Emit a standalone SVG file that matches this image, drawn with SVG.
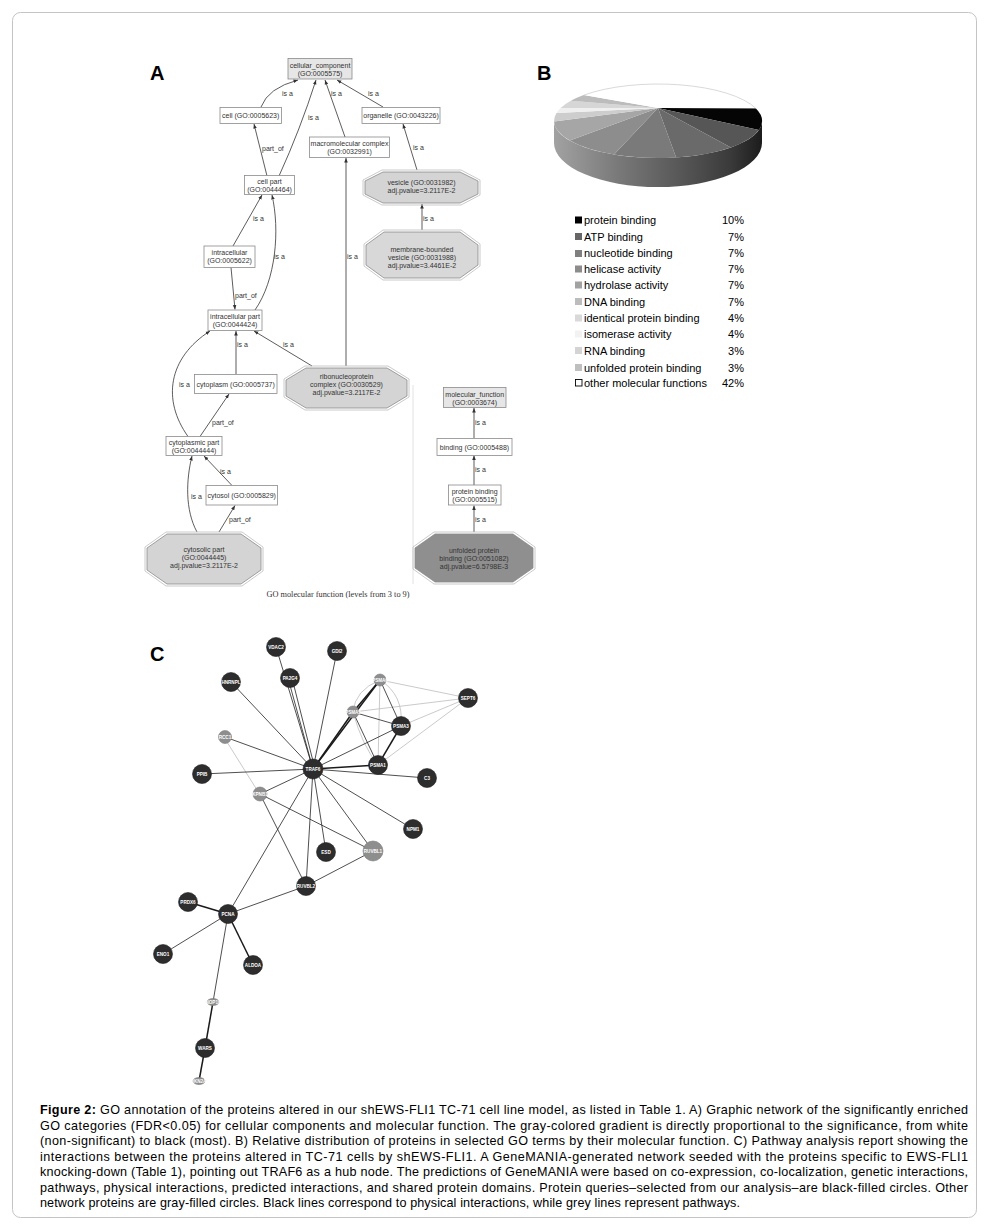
<svg xmlns="http://www.w3.org/2000/svg" width="988" height="1231" viewBox="0 0 988 1231">
<defs>
<style>
.t{font-family:"Liberation Sans",Arial,sans-serif;font-size:7px;fill:#333;text-anchor:middle}
.lb{font-family:"Liberation Sans",Arial,sans-serif;font-size:7px;fill:#333}
.box{fill:#fff;stroke:#8a8a8a;stroke-width:0.8}
.gbox{fill:#e6e6e6;stroke:#8a8a8a;stroke-width:0.8}
.oct{stroke:#8a8a8a;stroke-width:0.8}
.octo{fill:none;stroke:#bdbdbd;stroke-width:0.8}
.e{fill:none;stroke:#333;stroke-width:0.8;marker-end:url(#ah)}
.panel{font-family:"Liberation Sans",Arial,sans-serif;font-size:20px;font-weight:bold;fill:#000}
.leg{font-family:"Liberation Sans",Arial,sans-serif;font-size:11px;fill:#000}
.pct{font-family:"Liberation Sans",Arial,sans-serif;font-size:11px;fill:#000;text-anchor:end}
.cap{font-family:"Liberation Sans",Arial,sans-serif;font-size:12.6px;fill:#000}
.nb{fill:#2d2d2d;stroke:#1e1e1e;stroke-width:0.6}
.ng{fill:#8e8e8e;stroke:#7a7a7a;stroke-width:0.6}
.nt{font-family:"Liberation Sans",Arial,sans-serif;font-size:4.6px;font-weight:bold;fill:#fff;text-anchor:middle}
.k{stroke:#222;stroke-width:0.8;fill:none}
.kk{stroke:#1a1a1a;stroke-width:1.5;fill:none}
.g{stroke:#bdbdbd;stroke-width:0.8;fill:none}
</style>
<marker id="ah" viewBox="0 0 10 10" refX="10" refY="5" markerWidth="4.5" markerHeight="4.5" markerUnits="userSpaceOnUse" orient="auto"><path d="M0,1 L10,5 L0,9 z" fill="#333"/></marker>
<linearGradient id="side" x1="554" y1="0" x2="762" y2="0" gradientUnits="userSpaceOnUse">
<stop offset="0" stop-color="#a2a2a2"/><stop offset="0.3" stop-color="#7a7a7a"/><stop offset="0.6" stop-color="#585858"/><stop offset="0.85" stop-color="#3a3a3a"/><stop offset="1" stop-color="#1c1c1c"/>
</linearGradient>
</defs>
<rect x="0" y="0" width="988" height="1231" fill="#fff"/>
<rect x="12.5" y="12.5" width="964" height="1205" rx="8" fill="#fff" stroke="#c4c4c4" stroke-width="1"/>

<text class="panel" x="150" y="80">A</text>
<text class="panel" x="537" y="80">B</text>
<text class="panel" x="150" y="661">C</text>

<!-- Panel A connectors -->
<g id="connectors-A">
<path class="e" d="M261,107 Q268,88 298,80"/>
<path class="e" d="M267,176 L254,124"/>
<path class="e" d="M279,176 Q300,130 316,80"/>
<path class="e" d="M345,137 L325,80"/>
<path class="e" d="M383,107 L337,80"/>
<path class="e" d="M417,170 L403,124"/>
<path class="e" d="M422,230 L422,204"/>
<path class="e" d="M233,246 L262,195"/>
<path class="e" d="M255,310 C276,280 280,230 272,195"/>
<path class="e" d="M231,267.5 L235,309.5"/>
<path class="e" d="M346,366 L346,158"/>
<path class="e" d="M236,374 L236,331"/>
<path class="e" d="M312,366 L254,331"/>
<path class="e" d="M188,436.5 C162,400 168,358 210,331"/>
<path class="e" d="M200,436.5 L229,394"/>
<path class="e" d="M232,485.5 L204,456"/>
<path class="e" d="M197,532 C185,510 186,480 192,456"/>
<path class="e" d="M219,532 L235,505.5"/>
<path class="e" d="M474,438 L474,408"/>
<path class="e" d="M474,485 L474,455.5"/>
<path class="e" d="M474,532 L474,505.5"/>
<text class="lb" x="282" y="96">is a</text>
<text class="lb" x="262" y="151">part_of</text>
<text class="lb" x="308" y="120">is a</text>
<text class="lb" x="331" y="96">is a</text>
<text class="lb" x="368" y="96">is a</text>
<text class="lb" x="413" y="150">is a</text>
<text class="lb" x="423" y="221">is a</text>
<text class="lb" x="253" y="221">is a</text>
<text class="lb" x="274" y="259">is a</text>
<text class="lb" x="235" y="298">part_of</text>
<text class="lb" x="347" y="259">is a</text>
<text class="lb" x="237" y="347">is a</text>
<text class="lb" x="283" y="347">is a</text>
<text class="lb" x="179" y="387">is a</text>
<text class="lb" x="212" y="425">part_of</text>
<text class="lb" x="220" y="474">is a</text>
<text class="lb" x="191" y="499">is a</text>
<text class="lb" x="229" y="522">part_of</text>
<text class="lb" x="475" y="425">is a</text>
<text class="lb" x="475" y="472">is a</text>
<text class="lb" x="475" y="522">is a</text>
</g>

<!-- Panel A nodes -->
<g id="n-cellular_component"><rect class="gbox" x="288" y="58.5" width="64" height="20.5"/><text class="t" x="320" y="67.5">cellular_component</text><text class="t" x="320" y="75.5">(GO:0005575)</text></g>
<g id="n-cell"><rect class="box" x="220" y="107.5" width="61.5" height="16"/><text class="t" x="250.7" y="118">cell (GO:0005623)</text></g>
<g id="n-organelle"><rect class="box" x="362" y="107.5" width="78" height="16"/><text class="t" x="401" y="118">organelle (GO:0043226)</text></g>
<g id="n-macromolecular"><rect class="box" x="309.5" y="137" width="80" height="20.5"/><text class="t" x="349.5" y="146">macromolecular complex</text><text class="t" x="349.5" y="154">(GO:0032991)</text></g>
<g id="n-cellpart"><rect class="box" x="244.5" y="175.5" width="50" height="19"/><text class="t" x="269.5" y="184">cell part</text><text class="t" x="269.5" y="192">(GO:0044464)</text></g>
<g id="n-vesicle"><polygon class="octo" points="382,170 461,170 480,180 480,195 461,205 382,205 363,195 363,180"/><polygon class="oct" fill="#d4d4d4" points="383,172 460,172 478,181 478,194 460,203 383,203 365,194 365,181"/><text class="t" x="421.5" y="184.5">vesicle (GO:0031982)</text><text class="t" x="421.5" y="192.5">adj.pvalue=3.2117E-2</text></g>
<g id="n-membrane"><polygon class="octo" points="383,230 461,230 480,244 480,266 461,280 383,280 364,266 364,244"/><polygon class="oct" fill="#d8d8d8" points="384,232 460,232 478,245 478,265 460,278 384,278 366,265 366,245"/><text class="t" x="422" y="251.5">membrane-bounded</text><text class="t" x="422" y="259.5">vesicle (GO:0031988)</text><text class="t" x="422" y="267.5">adj.pvalue=3.4461E-2</text></g>
<g id="n-intracellular"><rect class="box" x="204" y="246" width="51" height="21.5"/><text class="t" x="229.5" y="255">intracellular</text><text class="t" x="229.5" y="263">(GO:0005622)</text></g>
<g id="n-intracellularpart"><rect class="box" x="208" y="310" width="54" height="20.5"/><text class="t" x="235" y="318.5">intracellular part</text><text class="t" x="235" y="326.5">(GO:0044424)</text></g>
<g id="n-cytoplasm"><rect class="box" x="194.5" y="374.5" width="82.5" height="19"/><text class="t" x="235.7" y="386.5">cytoplasm (GO:0005737)</text></g>
<g id="n-ribonucleoprotein"><polygon class="octo" points="305,366 388,366 409,379 409,397 388,410 305,410 284,397 284,379"/><polygon class="oct" fill="#d4d4d4" points="306,368 387,368 407,380 407,396 387,408 306,408 286,396 286,380"/><text class="t" x="346.5" y="378.5">ribonucleoprotein</text><text class="t" x="346.5" y="386.5">complex (GO:0030529)</text><text class="t" x="346.5" y="394.5">adj.pvalue=3.2117E-2</text></g>
<g id="n-cytoplasmicpart"><rect class="box" x="166" y="436.5" width="56" height="19"/><text class="t" x="194" y="445">cytoplasmic part</text><text class="t" x="194" y="453">(GO:0044444)</text></g>
<g id="n-cytosol"><rect class="box" x="206" y="485.5" width="71.5" height="19.5"/><text class="t" x="241.7" y="497.5">cytosol (GO:0005829)</text></g>
<g id="n-cytosolicpart"><polygon class="octo" points="166,532 242,532 263,547 263,571 242,586 166,586 145,571 145,547"/><polygon class="oct" fill="#d4d4d4" points="167,534 241,534 261,548 261,570 241,584 167,584 147,570 147,548"/><text class="t" x="204" y="551.5">cytosolic part</text><text class="t" x="204" y="559.7">(GO:0044445)</text><text class="t" x="204" y="568">adj.pvalue=3.2117E-2</text></g>
<line x1="413" y1="385" x2="413" y2="584" stroke="#e2e2e2" stroke-width="1"/>
<g id="n-molecular_function"><rect class="gbox" x="443.5" y="387.5" width="62.5" height="20"/><text class="t" x="474.7" y="396.5">molecular_function</text><text class="t" x="474.7" y="404.5">(GO:0003674)</text></g>
<g id="n-binding"><rect class="box" x="437" y="438.5" width="75" height="17"/><text class="t" x="474.5" y="449.5">binding (GO:0005488)</text></g>
<g id="n-proteinbinding"><rect class="box" x="448.5" y="485" width="52.5" height="20"/><text class="t" x="474.7" y="493.5">protein binding</text><text class="t" x="474.7" y="501.5">(GO:0005515)</text></g>
<g id="n-unfolded"><polygon class="octo" points="434,532 514,532 535,547 535,569 514,584 434,584 413,569 413,547"/><polygon class="oct" fill="#8f8f8f" points="435,534 513,534 533,548 533,568 513,582 435,582 415,568 415,548"/><text class="t" x="474" y="552.5">unfolded protein</text><text class="t" x="474" y="560.5">binding (GO:0051082)</text><text class="t" x="474" y="568.5">adj.pvalue=6.5798E-3</text></g>
<text x="338" y="597" font-family="'Liberation Serif','Times New Roman',serif" font-size="8.3" fill="#333" text-anchor="middle">GO molecular function (levels from 3 to 9)</text>

<!-- Panel B pie -->
<g id="pie">
<path d="M554,121 A104,37 0 0 0 762,121 L762,143 A104,44 0 0 1 554,143 Z" fill="url(#side)"/>
<path d="M658,108 L755.7,108.3 A104,37 0 0 1 758.9,130 Z" fill="#050505"/>
<path d="M658,108 L758.9,130 A104,37 0 0 1 730.9,147.4 Z" fill="#565656"/>
<path d="M658,108 L730.9,147.4 A104,37 0 0 1 676.1,157.4 Z" fill="#6a6a6a"/>
<path d="M658,108 L676.1,157.4 A104,37 0 0 1 614,154.5 Z" fill="#7a7a7a"/>
<path d="M658,108 L614,154.5 A104,37 0 0 1 569.8,140.6 Z" fill="#8d8d8d"/>
<path d="M658,108 L569.8,140.6 A104,37 0 0 1 554,121.6 Z" fill="#a6a6a6"/>
<path d="M658,108 L554,121.6 A104,37 0 0 1 556.5,113 Z" fill="#cdcdcd"/>
<path d="M658,108 L556.5,113 A104,37 0 0 1 560.6,108 Z" fill="#efefef"/>
<path d="M658,108 L560.6,108 A104,37 0 0 1 570.8,100.8 Z" fill="#d6d6d6"/>
<path d="M658,108 L570.8,100.8 A104,37 0 0 1 583.8,95.1 Z" fill="#bcbcbc"/>
<path d="M658,108 L583.8,95.1 A104,37 0 0 1 755.7,108.3 Z" fill="#ffffff"/>
<path d="M583.8,95.1 A104,37 0 0 1 755.7,108.3" fill="none" stroke="#c8c8c8" stroke-width="0.7"/>
</g>
<g id="legend">
<rect x="575" y="216.5" width="7" height="7" fill="#000"/><text class="leg" x="584" y="224">protein binding</text><text class="pct" x="744" y="224">10%</text>
<rect x="575" y="233" width="7" height="7" fill="#666"/><text class="leg" x="584" y="240.5">ATP binding</text><text class="pct" x="744" y="240.5">7%</text>
<rect x="575" y="250" width="7" height="7" fill="#7f7f7f"/><text class="leg" x="584" y="257.3">nucleotide binding</text><text class="pct" x="744" y="257.3">7%</text>
<rect x="575" y="265.5" width="7" height="7" fill="#8c8c8c"/><text class="leg" x="584" y="272.5">helicase activity</text><text class="pct" x="744" y="272.5">7%</text>
<rect x="575" y="281.5" width="7" height="7" fill="#a2a2a2"/><text class="leg" x="584" y="289">hydrolase activity</text><text class="pct" x="744" y="289">7%</text>
<rect x="575" y="298" width="7" height="7" fill="#bcbcbc"/><text class="leg" x="584" y="305.5">DNA binding</text><text class="pct" x="744" y="305.5">7%</text>
<rect x="575" y="314.5" width="7" height="7" fill="#d9d9d9"/><text class="leg" x="584" y="322">identical protein binding</text><text class="pct" x="744" y="322">4%</text>
<rect x="575" y="330.5" width="7" height="7" fill="#f2f2f2"/><text class="leg" x="584" y="338">isomerase activity</text><text class="pct" x="744" y="338">4%</text>
<rect x="575" y="347" width="7" height="7" fill="#d4d4d4"/><text class="leg" x="584" y="354.5">RNA binding</text><text class="pct" x="744" y="354.5">3%</text>
<rect x="575" y="364" width="7" height="7" fill="#bfbfbf"/><text class="leg" x="584" y="371.5">unfolded protein binding</text><text class="pct" x="744" y="371.5">3%</text>
<rect x="575.5" y="379.5" width="6.5" height="6.5" fill="#fff" stroke="#000" stroke-width="0.9"/><text class="leg" x="584" y="386.5">other molecular functions</text><text class="pct" x="744" y="386.5">42%</text>
</g>

<!-- Panel C connectors -->
<g id="connectors-C">
<line class="g" x1="227" y1="742" x2="257" y2="790"/>
<line class="g" x1="380" y1="680" x2="378" y2="765"/>
<line class="g" x1="380" y1="680" x2="468" y2="698"/>
<line class="g" x1="353" y1="712" x2="468" y2="698"/>
<line class="g" x1="401" y1="726" x2="468" y2="698"/>
<line class="g" x1="378" y1="765" x2="468" y2="698"/>
<path class="g" d="M380,680 Q404,695 401,726"/>
<path class="g" d="M353,712 Q362,745 378,765"/>
<path class="g" d="M380,680 Q355,690 353,712"/>
<path class="g" d="M313,769 Q350,715 380,680"/>
<line class="k" x1="313" y1="769" x2="276" y2="647"/>
<line class="k" x1="313" y1="769" x2="288" y2="678"/>
<line class="k" x1="315" y1="769" x2="292" y2="678"/>
<line class="k" x1="313" y1="769" x2="231" y2="682"/>
<line class="k" x1="313" y1="769" x2="337" y2="651"/>
<line class="k" x1="313" y1="769" x2="225" y2="737"/>
<line class="k" x1="313" y1="769" x2="202" y2="774"/>
<line class="k" x1="313" y1="769" x2="260" y2="794"/>
<line class="kk" x1="313" y1="769" x2="353" y2="712"/>
<line class="kk" x1="313" y1="769" x2="380" y2="680"/>
<line class="k" x1="313" y1="769" x2="401" y2="726"/>
<line class="kk" x1="313" y1="769" x2="378" y2="765"/>
<line class="k" x1="313" y1="769" x2="427" y2="778"/>
<line class="k" x1="313" y1="769" x2="413" y2="829"/>
<line class="k" x1="313" y1="769" x2="326" y2="852"/>
<line class="k" x1="313" y1="769" x2="373" y2="851"/>
<line class="k" x1="313" y1="769" x2="306" y2="886"/>
<line class="k" x1="313" y1="769" x2="228" y2="914"/>
<line class="k" x1="260" y1="794" x2="306" y2="886"/>
<line class="k" x1="260" y1="794" x2="373" y2="851"/>
<line class="k" x1="306" y1="886" x2="373" y2="851"/>
<line class="k" x1="306" y1="886" x2="228" y2="914"/>
<line class="kk" x1="228" y1="914" x2="188" y2="902"/>
<line class="k" x1="228" y1="914" x2="163" y2="954"/>
<line class="kk" x1="228" y1="914" x2="253" y2="965"/>
<line class="k" x1="228" y1="914" x2="213" y2="1002"/>
<line class="kk" x1="213" y1="1002" x2="205" y2="1048"/>
<line class="kk" x1="205" y1="1048" x2="199" y2="1081"/>
<line class="kk" x1="380" y1="680" x2="353" y2="712"/>
<line class="k" x1="380" y1="680" x2="401" y2="726"/>
<line class="k" x1="353" y1="712" x2="401" y2="726"/>
<line class="k" x1="353" y1="712" x2="378" y2="765"/>
<line class="kk" x1="401" y1="726" x2="378" y2="765"/>
</g>

<!-- Panel C nodes -->
<g id="c-VDAC2"><circle class="nb" cx="276" cy="647" r="9.5"/><text class="nt" x="276" y="648.6">VDAC2</text></g>
<g id="c-GDI2"><circle class="nb" cx="337" cy="651" r="9.5"/><text class="nt" x="337" y="652.6">GDI2</text></g>
<g id="c-PA2G4"><circle class="nb" cx="290" cy="678" r="9.5"/><text class="nt" x="290" y="679.6">PA2G4</text></g>
<g id="c-HNRNPL"><circle class="nb" cx="231" cy="682" r="9.5"/><text class="nt" x="231" y="683.6">HNRNPL</text></g>
<g id="c-PSMA6"><circle class="ng" cx="380" cy="680" r="6"/><text class="nt" x="380" y="681.6">PSMA6</text></g>
<g id="c-SEPT6"><circle class="nb" cx="468" cy="698" r="9.5"/><text class="nt" x="468" y="699.6">SEPT6</text></g>
<g id="c-PSMA5"><circle class="ng" cx="353" cy="712" r="6"/><text class="nt" x="353" y="713.6">PSMA5</text></g>
<g id="c-PSMA3"><circle class="nb" cx="401" cy="726" r="9.5"/><text class="nt" x="401" y="727.6">PSMA3</text></g>
<g id="c-RCC1"><circle class="ng" cx="225" cy="737" r="6.5"/><text class="nt" x="225" y="738.6">RCC1</text></g>
<g id="c-PSMA1"><circle class="nb" cx="378" cy="765" r="9.5"/><text class="nt" x="378" y="766.6">PSMA1</text></g>
<g id="c-TRAF6"><circle class="nb" cx="313" cy="769" r="10"/><text class="nt" x="313" y="770.6">TRAF6</text></g>
<g id="c-PPIB"><circle class="nb" cx="202" cy="774" r="9.5"/><text class="nt" x="202" y="775.6">PPIB</text></g>
<g id="c-C3"><circle class="nb" cx="427" cy="778" r="9.5"/><text class="nt" x="427" y="779.6">C3</text></g>
<g id="c-KPNB1"><circle class="ng" cx="260" cy="794" r="7"/><text class="nt" x="260" y="795.6">KPNB1</text></g>
<g id="c-NPM1"><circle class="nb" cx="413" cy="829" r="9.5"/><text class="nt" x="413" y="830.6">NPM1</text></g>
<g id="c-ESD"><circle class="nb" cx="326" cy="852" r="9.5"/><text class="nt" x="326" y="853.6">ESD</text></g>
<g id="c-RUVBL1"><circle class="ng" cx="373" cy="851" r="10"/><text class="nt" x="373" y="852.6">RUVBL1</text></g>
<g id="c-RUVBL2"><circle class="nb" cx="306" cy="886" r="9.5"/><text class="nt" x="306" y="887.6">RUVBL2</text></g>
<g id="c-PRDX6"><circle class="nb" cx="188" cy="902" r="9.5"/><text class="nt" x="188" y="903.6">PRDX6</text></g>
<g id="c-PCNA"><circle class="nb" cx="228" cy="914" r="9.5"/><text class="nt" x="228" y="915.6">PCNA</text></g>
<g id="c-ENO1"><circle class="nb" cx="163" cy="954" r="9.5"/><text class="nt" x="163" y="955.6">ENO1</text></g>
<g id="c-ALDOA"><circle class="nb" cx="253" cy="965" r="9.5"/><text class="nt" x="253" y="966.6">ALDOA</text></g>
<g id="c-NOP16"><ellipse class="ng" cx="213" cy="1002" rx="6" ry="3.5"/><text class="nt" x="213" y="1003.6">NOP16</text></g>
<g id="c-WARS"><circle class="nb" cx="205" cy="1048" r="9.5"/><text class="nt" x="205" y="1049.6">WARS</text></g>
<g id="c-CDKN2AIP"><ellipse class="ng" cx="199" cy="1081" rx="6" ry="3.5"/><text class="nt" x="199" y="1082.6">CDKN2AIP</text></g>

<!-- Caption -->
<g id="caption">
<text class="cap" x="40" y="1114" textLength="928" lengthAdjust="spacing"><tspan font-weight="bold">Figure 2:</tspan> GO annotation of the proteins altered in our shEWS-FLI1 TC-71 cell line model, as listed in Table 1. A) Graphic network of the significantly enriched</text>
<text class="cap" x="40" y="1129.5" textLength="928" lengthAdjust="spacing">GO categories (FDR&lt;0.05) for cellular components and molecular function. The gray-colored gradient is directly proportional to the significance, from white</text>
<text class="cap" x="40" y="1145" textLength="928" lengthAdjust="spacing">(non-significant) to black (most). B) Relative distribution of proteins in selected GO terms by their molecular function. C) Pathway analysis report showing the</text>
<text class="cap" x="40" y="1160.5" textLength="928" lengthAdjust="spacing">interactions between the proteins altered in TC-71 cells by shEWS-FLI1. A GeneMANIA-generated network seeded with the proteins specific to EWS-FLI1</text>
<text class="cap" x="40" y="1176" textLength="928" lengthAdjust="spacing">knocking-down (Table 1), pointing out TRAF6 as a hub node. The predictions of GeneMANIA were based on co-expression, co-localization, genetic interactions,</text>
<text class="cap" x="40" y="1191.5" textLength="928" lengthAdjust="spacing">pathways, physical interactions, predicted interactions, and shared protein domains. Protein queries–selected from our analysis–are black-filled circles. Other</text>
<text class="cap" x="40" y="1207" textLength="700" lengthAdjust="spacing">network proteins are gray-filled circles. Black lines correspond to physical interactions, while grey lines represent pathways.</text>
</g>
</svg>
